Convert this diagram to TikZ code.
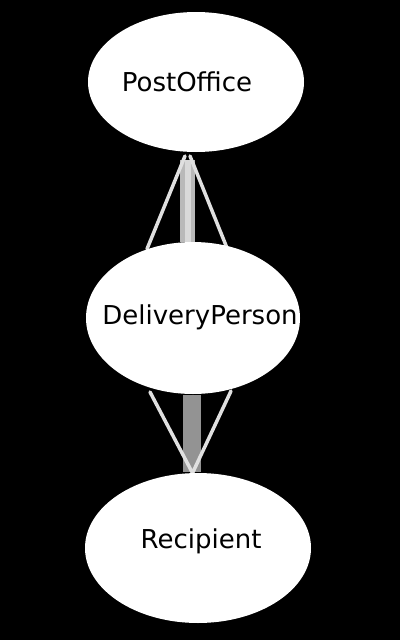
\documentclass[tikz,border=0pt]{standalone}
\usepackage{fontspec}
\setmainfont{DejaVu Sans}
\usetikzlibrary{shapes.geometric}
\begin{document}
\begin{tikzpicture}[x=1pt,y=-1pt,
  ell/.style={ellipse,fill=white,draw=none,minimum width=#1},
  lbl/.style={font=\fontsize{26}{30}\selectfont,text=black},
  wire/.style={draw=white!88!black,line width=3.5pt,line cap=round},
  bar/.style={fill=gray!85,draw=none}]
\fill[black] (0,0) rectangle (400,640);
\useasboundingbox (0,0) rectangle (400,640);
% bars
\fill[gray!55] (180,160) rectangle (195,242);
\fill[gray!30] (185,160) rectangle (191,242);
\fill[bar] (183,395) rectangle (201,472);
% connectors
\coordinate (a1) at (185,156);
\coordinate (a2) at (147,249);
\coordinate (a3) at (190,156);
\coordinate (a4) at (227,248);
\coordinate (b1) at (150,392);
\coordinate (b2) at (192,472);
\coordinate (b3) at (231,391);
\coordinate (b4) at (193,472);
\draw[wire] (a1) -- (a2);
\draw[wire] (a3) -- (a4);
\draw[wire] (b1) -- (b2);
\draw[wire] (b3) -- (b4);
% nodes
\node[ell, minimum width=216pt, minimum height=140pt] (po) at (196,82) {};
\node[lbl] (pot) at (187,82) {PostOffice};
\node[ell, minimum width=214pt, minimum height=152pt] (dp) at (193,318) {};
\node[lbl] (dpt) at (200,317) {DeliveryPerson};
\node[ell, minimum width=226pt, minimum height=150pt] (re) at (198,548) {};
\node[lbl] (ret) at (201,541) {Recipient};
\end{tikzpicture}
\end{document}
